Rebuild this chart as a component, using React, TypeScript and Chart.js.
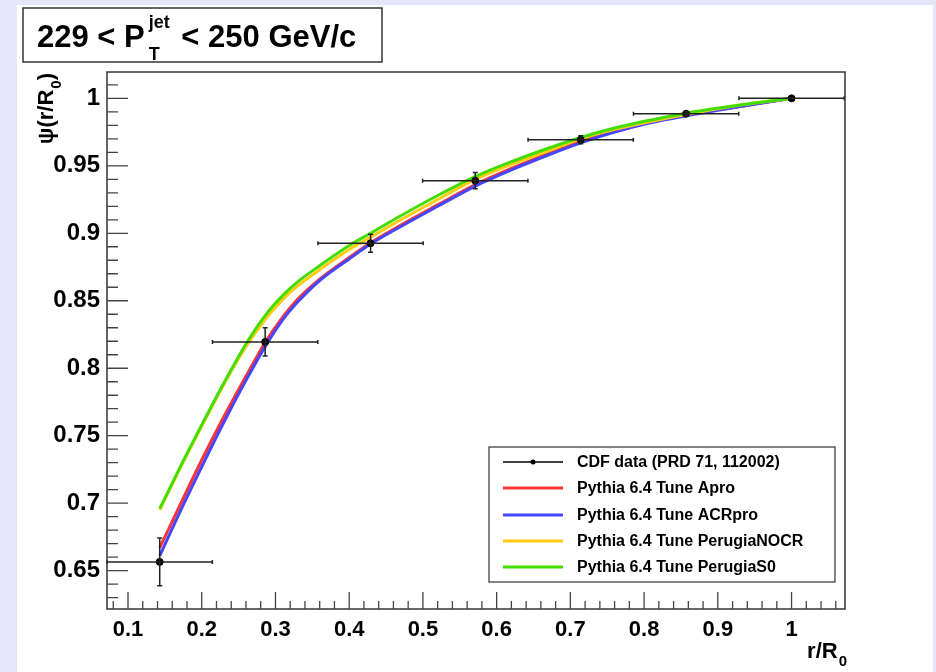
import React, { useEffect, useRef } from "react";
import { Chart, registerables } from "chart.js";

Chart.register(...registerables);

// ---- data ----
const rOverR0 = [0.143, 0.286, 0.429, 0.571, 0.714, 0.857, 1.0];
const cdfPsi = [0.6565, 0.8195, 0.8926, 0.939, 0.9693, 0.9886, 1.0];
const cdfPsiErr = [0.0177, 0.0105, 0.0066, 0.006, 0.003, 0.0015, 0];
const cdfBinHalfWidth = [0.0714, 0.0714, 0.0714, 0.0714, 0.0714, 0.0714, 0.0714];

const curveR = [0.143, 0.17, 0.2, 0.23, 0.26, 0.286, 0.31, 0.33, 0.36, 0.4, 0.429, 0.47, 0.52, 0.571, 0.62, 0.67, 0.714, 0.76, 0.81, 0.857, 0.93, 1.0];
const psiApro = [0.667, 0.698, 0.732, 0.764, 0.794, 0.819, 0.838, 0.851, 0.866, 0.882, 0.893, 0.906, 0.921, 0.936, 0.948, 0.959, 0.968, 0.976, 0.983, 0.988, 0.994, 1.0];
const psiACRpro = [0.661, 0.693, 0.727, 0.76, 0.791, 0.816, 0.836, 0.849, 0.865, 0.881, 0.892, 0.905, 0.92, 0.935, 0.947, 0.958, 0.967, 0.975, 0.982, 0.987, 0.994, 1.0];
const psiPerugiaNOCR = [0.695, 0.725, 0.757, 0.788, 0.816, 0.836, 0.851, 0.861, 0.873, 0.888, 0.897, 0.91, 0.925, 0.94, 0.951, 0.961, 0.97, 0.977, 0.983, 0.988, 0.995, 1.0];
const psiPerugiaS0 = [0.696, 0.726, 0.758, 0.789, 0.818, 0.839, 0.854, 0.864, 0.876, 0.891, 0.9, 0.913, 0.928, 0.942, 0.953, 0.963, 0.971, 0.978, 0.984, 0.989, 0.995, 1.0];

const seriesLabels = [
  "CDF data (PRD 71, 112002)",
  "Pythia 6.4 Tune Apro",
  "Pythia 6.4 Tune ACRpro",
  "Pythia 6.4 Tune PerugiaNOCR",
  "Pythia 6.4 Tune PerugiaS0",
];
const seriesColors = ["#000000", "#ff3333", "#4646ff", "#ffcc11", "#44dd00"];

const xMin = 0.0715;
const xMax = 1.0725;
const yMin = 0.6216;
const yMax = 1.0195;
const xTickStep = 0.1;
const yTickStep = 0.05;
const xMinorStep = 0.02;
const yMinorStep = 0.01;

const FONT = '"Liberation Sans", Arial, Helvetica, sans-serif';

export default function App() {
  const ref = useRef<HTMLCanvasElement>(null);

  useEffect(() => {
    const canvas = ref.current;
    if (!canvas) return;
    const pts = (xs: number[], ys: number[]) => xs.map((x, i) => ({ x, y: ys[i] }));

    const overlay = {
      id: "overlay",
      afterDatasetsDraw(chart: any) {
        const ctx = chart.ctx as CanvasRenderingContext2D;
        const xs = chart.scales.x;
        const ys = chart.scales.y;
        ctx.save();
        ctx.strokeStyle = "#222";
        ctx.lineWidth = 1.5;
        rOverR0.forEach((r, i) => {
          const py = ys.getPixelForValue(cdfPsi[i]);
          const xl = xs.getPixelForValue(Math.max(r - cdfBinHalfWidth[i], xs.min));
          const xr = xs.getPixelForValue(Math.min(r + cdfBinHalfWidth[i], xs.max));
          const px = xs.getPixelForValue(r);
          ctx.beginPath();
          ctx.moveTo(xl, py);
          ctx.lineTo(xr, py);
          ctx.moveTo(xl, py - 2);
          ctx.lineTo(xl, py + 2);
          ctx.moveTo(xr, py - 2);
          ctx.lineTo(xr, py + 2);
          if (cdfPsiErr[i] > 0) {
            const yt = ys.getPixelForValue(cdfPsi[i] + cdfPsiErr[i]);
            const yb = ys.getPixelForValue(cdfPsi[i] - cdfPsiErr[i]);
            ctx.moveTo(px, yt);
            ctx.lineTo(px, yb);
            ctx.moveTo(px - 2.5, yt);
            ctx.lineTo(px + 2.5, yt);
            ctx.moveTo(px - 2.5, yb);
            ctx.lineTo(px + 2.5, yb);
          }
          ctx.stroke();
        });
        ctx.restore();
      },
      afterDraw(chart: any) {
        const ctx = chart.ctx as CanvasRenderingContext2D;
        const xs = chart.scales.x;
        const ys = chart.scales.y;
        const a = chart.chartArea;
        ctx.save();
        // frame
        ctx.strokeStyle = "#333";
        ctx.lineWidth = 1.5;
        ctx.strokeRect(a.left, a.top, a.right - a.left, a.bottom - a.top);
        // inward ticks
        ctx.lineWidth = 1.3;
        ctx.strokeStyle = "#444";
        ctx.beginPath();
        const nY0 = Math.ceil(yMin / yMinorStep - 1e-6);
        const nY1 = Math.floor(yMax / yMinorStep + 1e-6);
        for (let k = nY0; k <= nY1; k++) {
          const v = k * yMinorStep;
          const major = Math.abs(v / yTickStep - Math.round(v / yTickStep)) < 1e-6;
          const p = ys.getPixelForValue(v);
          ctx.moveTo(a.left, p);
          ctx.lineTo(a.left + (major ? 21 : 11), p);
        }
        const nX0 = Math.ceil(xMin / xMinorStep - 1e-6);
        const nX1 = Math.floor(xMax / xMinorStep + 1e-6);
        for (let k = nX0; k <= nX1; k++) {
          const v = k * xMinorStep;
          const major = Math.abs(v / xTickStep - Math.round(v / xTickStep)) < 1e-6;
          const p = xs.getPixelForValue(v);
          ctx.moveTo(p, a.bottom);
          ctx.lineTo(p, a.bottom - (major ? 17 : 8));
        }
        ctx.stroke();

        // axis titles
        ctx.fillStyle = "#000";
        ctx.textBaseline = "alphabetic";
        ctx.textAlign = "left";
        const bigF = `bold 22px ${FONT}`;
        const subF = `bold 15px ${FONT}`;
        ctx.font = bigF;
        const wMain = ctx.measureText("r/R").width;
        ctx.font = subF;
        const wSub = ctx.measureText("0").width;
        const xEnd = a.right + 2;
        ctx.font = bigF;
        ctx.fillText("r/R", xEnd - wSub - wMain - 1, 658);
        ctx.font = subF;
        ctx.fillText("0", xEnd - wSub, 666);

        // y title: ψ(r/R0) rotated
        ctx.save();
        ctx.translate(53, 73);
        ctx.rotate(-Math.PI / 2);
        ctx.font = bigF;
        const w1 = ctx.measureText("\u03c8(r/R").width;
        const w3 = ctx.measureText(")").width;
        ctx.font = subF;
        const w2 = ctx.measureText("0").width;
        const total = w1 + w2 + w3 + 1;
        let x0 = -total;
        ctx.font = bigF;
        ctx.fillText("\u03c8(r/R", x0, 0);
        x0 += w1 + 1;
        ctx.font = subF;
        ctx.fillText("0", x0, 8);
        x0 += w2;
        ctx.font = bigF;
        ctx.fillText(")", x0, 0);
        ctx.restore();

        // legend
        const lx = 489, ly = 447, lw = 346, lh = 135;
        ctx.fillStyle = "#fff";
        ctx.fillRect(lx, ly, lw, lh);
        ctx.strokeStyle = "#333";
        ctx.lineWidth = 1.2;
        ctx.strokeRect(lx, ly, lw, lh);
        const rowY = [462, 488, 515, 541, 567];
        ctx.font = `bold 16px ${FONT}`;
        ctx.textBaseline = "middle";
        seriesLabels.forEach((lab, i) => {
          const y = rowY[i];
          ctx.beginPath();
          ctx.strokeStyle = seriesColors[i];
          ctx.lineWidth = i === 0 ? 1.3 : 3;
          ctx.moveTo(503, y);
          ctx.lineTo(563, y);
          ctx.stroke();
          if (i === 0) {
            ctx.fillStyle = "#000";
            ctx.beginPath();
            ctx.arc(533, y, 2.5, 0, Math.PI * 2);
            ctx.fill();
          }
          ctx.fillStyle = "#000";
          ctx.fillText(lab, 577, y + 1);
        });

        // title box
        ctx.fillStyle = "#fff";
        ctx.fillRect(23, 8, 359, 54);
        ctx.strokeStyle = "#333";
        ctx.lineWidth = 1.5;
        ctx.strokeRect(23, 8, 359, 54);
        ctx.fillStyle = "#000";
        ctx.textBaseline = "alphabetic";
        const tF = `bold 31px ${FONT}`;
        const sF = `bold 18px ${FONT}`;
        ctx.font = tF;
        let tx = 37;
        ctx.fillText("229 < P", tx, 47);
        tx += ctx.measureText("229 < P").width + 4;
        ctx.font = sF;
        ctx.fillText("jet", tx, 28);
        ctx.fillText("T", tx, 60);
        tx += ctx.measureText("jet").width + 3;
        ctx.font = tF;
        ctx.fillText(" < 250 GeV/c", tx, 47);
        ctx.restore();
      },
    };

    const chart = new Chart(canvas, {
      type: "scatter",
      data: {
        datasets: [
          {
            label: seriesLabels[0],
            data: pts(rOverR0, cdfPsi),
            showLine: false,
            pointRadius: 3.5,
            pointBackgroundColor: seriesColors[0],
            pointBorderColor: seriesColors[0],
            order: 0,
          },
          {
            label: seriesLabels[1],
            data: pts(curveR, psiApro),
            showLine: true,
            borderColor: seriesColors[1],
            borderWidth: 3,
            pointRadius: 0,
            cubicInterpolationMode: "monotone",
            order: 4,
          },
          {
            label: seriesLabels[2],
            data: pts(curveR, psiACRpro),
            showLine: true,
            borderColor: seriesColors[2],
            borderWidth: 3,
            pointRadius: 0,
            cubicInterpolationMode: "monotone",
            order: 3,
          },
          {
            label: seriesLabels[3],
            data: pts(curveR, psiPerugiaNOCR),
            showLine: true,
            borderColor: seriesColors[3],
            borderWidth: 3,
            pointRadius: 0,
            cubicInterpolationMode: "monotone",
            order: 2,
          },
          {
            label: seriesLabels[4],
            data: pts(curveR, psiPerugiaS0),
            showLine: true,
            borderColor: seriesColors[4],
            borderWidth: 3,
            pointRadius: 0,
            cubicInterpolationMode: "monotone",
            order: 1,
          },
        ],
      },
      options: {
        animation: false,
        responsive: false,
        devicePixelRatio: 1,
        layout: { padding: { left: 0, right: 91, top: 72, bottom: 0 } },
        plugins: { legend: { display: false }, tooltip: { enabled: false } },
        scales: {
          x: {
            type: "linear",
            min: xMin,
            max: xMax,
            grid: { display: false, drawTicks: false },
            border: { display: false },
            afterFit: (s: any) => {
              s.height = 63;
            },
            ticks: {
              stepSize: xTickStep,
              includeBounds: false,
              autoSkip: false,
              maxRotation: 0,
              padding: 8,
              color: "#000",
              font: { family: FONT, size: 22, weight: "bold" },
              callback: (v: any) => String(Math.round(Number(v) * 100) / 100),
            },
          },
          y: {
            type: "linear",
            min: yMin,
            max: yMax,
            grid: { display: false, drawTicks: false },
            border: { display: false },
            afterFit: (s: any) => {
              s.width = 107;
            },
            ticks: {
              stepSize: yTickStep,
              includeBounds: false,
              autoSkip: false,
              padding: 7,
              color: "#000",
              font: { family: FONT, size: 24, weight: "bold" },
              callback: (v: any) => String(Math.round(Number(v) * 100) / 100),
            },
          },
        },
      },
      plugins: [overlay],
    } as any);
    return () => chart.destroy();
  }, []);

  return (
    <div style={{ position: "fixed", left: 0, top: 0, width: 936, height: 672, background: "#e6e6fa", overflow: "hidden" }}>
      <div style={{ position: "absolute", left: 17, top: 5, width: 916, height: 667, background: "#ffffff" }} />
      <canvas
        ref={ref}
        width={936}
        height={672}
        style={{ position: "absolute", left: 0, top: 0, width: 936, height: 672 }}
      />
    </div>
  );
}
